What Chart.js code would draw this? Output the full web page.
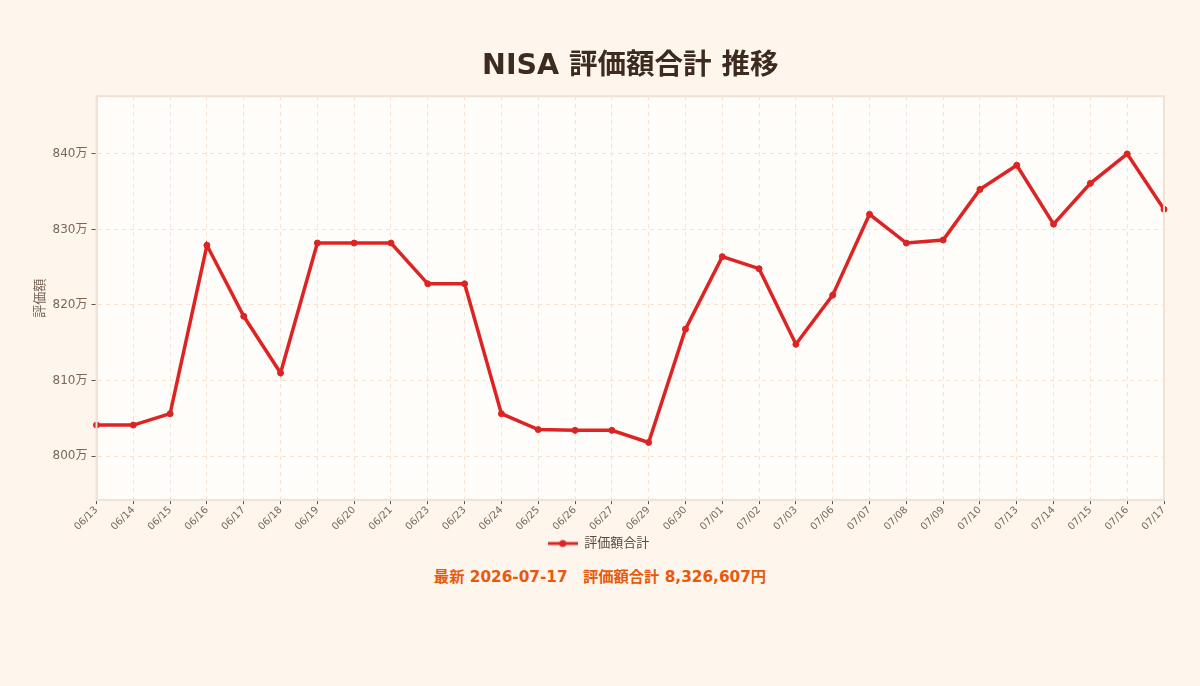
<!DOCTYPE html>
<html lang="ja">
<head>
<meta charset="utf-8">
<title>NISA 評価額合計 推移</title>
<script src="https://cdn.jsdelivr.net/npm/chart.js@4/dist/chart.umd.min.js"></script>
<style>
  html, body { margin: 0; padding: 0; background: #fef6ed; }
  body { width: 1200px; height: 686px; overflow: hidden; font-family: "DejaVu Sans", "Noto Sans CJK JP", sans-serif; }
  #wrap { position: relative; width: 1200px; height: 560px; }
  #footer { text-align: center; color: #e8590c; font-weight: bold; font-size: 15.3px; margin-top: 4px; }
</style>
</head>
<body>
<div id="wrap"><canvas id="c"></canvas></div>
<div id="footer">最新 2026-07-17　評価額合計 8,326,607円</div>
<script>
const categories = ["06/13","06/14","06/15","06/16","06/17","06/18","06/19","06/20","06/21","06/23","06/23","06/24","06/25","06/26","06/27","06/29","06/30","07/01","07/02","07/03","07/06","07/07","07/08","07/09","07/10","07/13","07/14","07/15","07/16","07/17"];
const seriesName = "評価額合計";
const totalValues = [8041000,8041000,8056000,8279000,8185000,8110000,8282000,8282000,8282000,8228000,8228000,8056000,8035000,8034000,8034000,8018000,8168000,8264000,8248000,8148000,8213000,8320000,8282000,8286000,8353000,8385000,8307000,8361000,8400000,8326607];
const yTickStep = 100000;

const lineColor = "#dc2424";
const fontFamily = '"DejaVu Sans", "Noto Sans CJK JP", sans-serif';

// legend icon: line with a dot
const icon = document.createElement('canvas');
icon.width = 30; icon.height = 10;
(function(){
  const g = icon.getContext('2d');
  g.strokeStyle = lineColor; g.lineWidth = 3;
  g.beginPath(); g.moveTo(0,5); g.lineTo(30,5); g.stroke();
  g.fillStyle = lineColor; g.beginPath(); g.arc(15,5,3.5,0,Math.PI*2); g.fill();
})();

const dMin = Math.min(...totalValues), dMax = Math.max(...totalValues);
const pad = (dMax - dMin) * 0.2;

const areaPlugin = {
  id: 'areaBg',
  beforeDraw(chart) {
    const {ctx, chartArea: a} = chart;
    ctx.save();
    ctx.fillStyle = '#fffdf9';
    ctx.fillRect(a.left, a.top, a.right - a.left, a.bottom - a.top);
    ctx.restore();
  },
  afterDatasetsDraw(chart) {
    const {ctx, chartArea: a} = chart;
    ctx.save();
    ctx.strokeStyle = '#f1e2d3';
    ctx.lineWidth = 2;
    ctx.strokeRect(a.left, a.top, a.right - a.left, a.bottom - a.top);
    ctx.restore();
  }
};

new Chart(document.getElementById('c'), {
  type: 'line',
  data: {
    labels: categories,
    datasets: [{
      label: seriesName,
      data: totalValues,
      borderColor: lineColor,
      backgroundColor: lineColor,
      borderWidth: 3.5,
      pointRadius: 3,
      pointBorderWidth: 1,
      pointBackgroundColor: lineColor,
      pointBorderColor: lineColor,
      pointStyle: 'circle',
      tension: 0,
      clip: false
    }]
  },
  options: {
    responsive: true,
    maintainAspectRatio: false,
    animation: false,
    layout: { padding: { left: 33, right: 36, top: 30, bottom: 0 } },
    plugins: {
      title: {
        display: true,
        text: 'NISA 評価額合計 推移',
        fullSize: false,
        color: '#3d2b1f',
        font: { family: fontFamily, size: 28.5, weight: 'bold' },
        padding: { top: 19, bottom: 13 }
      },
      legend: {
        position: 'bottom',
        labels: {
          usePointStyle: true,
          pointStyle: icon,
          pointStyleWidth: 30,
          color: '#5a4a3e',
          font: { family: fontFamily, size: 13 },
          padding: 4,
          generateLabels(chart) {
            return [{ text: seriesName, pointStyle: icon, fillStyle: lineColor, strokeStyle: lineColor, lineWidth: 0, datasetIndex: 0, fontColor: '#5a4a3e' }];
          }
        }
      },
      tooltip: { enabled: false }
    },
    scales: {
      x: {
        offset: false,
        grid: { color: '#f7e2cf', lineWidth: 1, tickColor: '#555', tickLength: 4, drawTicks: true },
        border: { display: true, color: '#f1e2d3', width: 2, dash: [4, 4] },
        ticks: { color: '#7a6656', font: { family: fontFamily, size: 10 }, minRotation: 45, maxRotation: 45, autoSkip: false, padding: 0 }
      },
      y: {
        min: dMin - pad,
        max: dMax + pad,
        afterBuildTicks(scale) {
          const t = [];
          for (let v = Math.ceil(scale.min / yTickStep) * yTickStep; v <= scale.max; v += yTickStep) t.push({ value: v });
          scale.ticks = t;
        },
        grid: { color: '#f7e2cf', lineWidth: 1, tickColor: '#555', tickLength: 5 },
        border: { display: true, color: '#f1e2d3', width: 2, dash: [4, 4] },
        title: { display: true, text: '評価額', color: '#7a6656', font: { family: fontFamily, size: 13 }, padding: { top: 0, bottom: 0 } },
        ticks: {
          color: '#7a6656',
          font: { family: fontFamily, size: 12 },
          padding: 4,
          callback(v) { return Math.round(v / 10000) + '万'; }
        }
      }
    }
  },
  plugins: [areaPlugin]
});
</script>
</body>
</html>
